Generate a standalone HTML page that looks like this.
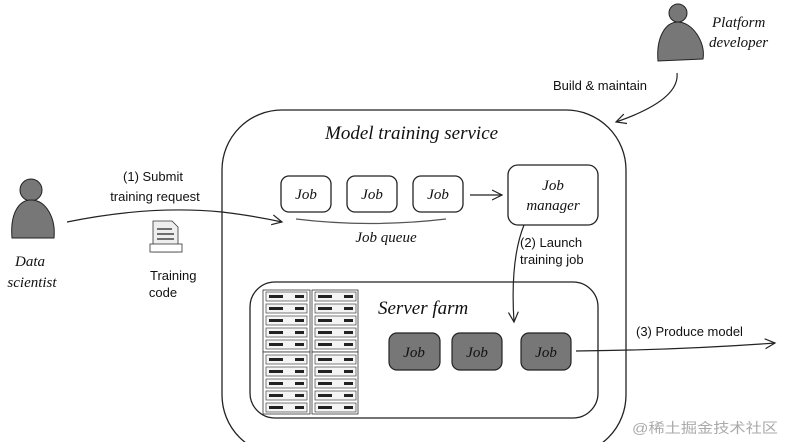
<!DOCTYPE html>
<html><head><meta charset="utf-8"><style>
html,body{margin:0;padding:0;background:#fff;}
svg{display:block}
.h{font-family:"Liberation Serif",serif;font-style:italic;fill:#111}
.s{font-family:"Liberation Sans",sans-serif;fill:#111;font-size:13px}
</style></head><body>
<svg width="785" height="442" viewBox="0 0 785 442" xmlns="http://www.w3.org/2000/svg">
<defs>
<marker id="a" markerWidth="12" markerHeight="12" refX="10" refY="6" orient="auto" markerUnits="userSpaceOnUse">
<path d="M0,1 L10,6 L0,11" fill="none" stroke="#222" stroke-width="1.2"/></marker>
</defs>
<rect x="222" y="110" width="404" height="345" rx="60" fill="none" stroke="#222" stroke-width="1.3"/>
<text x="325" y="139" class="h" font-size="19">Model training service</text>
<g fill="#fff" stroke="#222" stroke-width="1.3">
<rect x="281" y="176" width="50" height="36" rx="8"/>
<rect x="347" y="176" width="50" height="36" rx="8"/>
<rect x="413" y="176" width="50" height="36" rx="8"/>
<rect x="508" y="165" width="90" height="60" rx="10"/>
</g>
<g class="h" font-size="15" text-anchor="middle">
<text x="306" y="199">Job</text><text x="372" y="199">Job</text><text x="438" y="199">Job</text>
<text x="553" y="190">Job</text><text x="553" y="210">manager</text>
<text x="386" y="242">Job queue</text>
</g>
<path d="M296,219 Q370,228 446,219" fill="none" stroke="#555" stroke-width="1.3"/>
<path d="M470,195 L502,195" stroke="#222" stroke-width="1.2" marker-end="url(#a)"/>
<rect x="250" y="282" width="348" height="136" rx="25" fill="#fff" stroke="#222" stroke-width="1.3"/>
<text x="378" y="314" class="h" font-size="19">Server farm</text>
<g fill="#777" stroke="#222" stroke-width="1.2">
<rect x="389" y="333" width="51" height="37" rx="8"/>
<rect x="452" y="333" width="50" height="37" rx="8"/>
<rect x="521" y="333" width="50" height="37" rx="8"/>
</g>
<g class="h" font-size="15" text-anchor="middle">
<text x="414" y="357">Job</text><text x="477" y="357">Job</text><text x="546" y="357">Job</text>
</g>
<g stroke="#333" stroke-width="0.8" fill="#fff">
<rect x="263" y="290" width="47" height="62"/><rect x="312" y="290" width="46" height="62"/>
<rect x="263" y="352" width="47" height="62"/><rect x="312" y="352" width="46" height="62"/>
</g>
<g stroke="#444" stroke-width="0.7" fill="#f4f4f4">
<rect x="266" y="292" width="41" height="9"/><rect x="266" y="304" width="41" height="9"/><rect x="266" y="316" width="41" height="9"/><rect x="266" y="328" width="41" height="9"/><rect x="266" y="340" width="41" height="9"/>
<rect x="266" y="355" width="41" height="9"/><rect x="266" y="367" width="41" height="9"/><rect x="266" y="379" width="41" height="9"/><rect x="266" y="391" width="41" height="9"/><rect x="266" y="403" width="41" height="9"/>
<rect x="315" y="292" width="41" height="9"/><rect x="315" y="304" width="41" height="9"/><rect x="315" y="316" width="41" height="9"/><rect x="315" y="328" width="41" height="9"/><rect x="315" y="340" width="41" height="9"/>
<rect x="315" y="355" width="41" height="9"/><rect x="315" y="367" width="41" height="9"/><rect x="315" y="379" width="41" height="9"/><rect x="315" y="391" width="41" height="9"/><rect x="315" y="403" width="41" height="9"/>
</g>
<g fill="#222">
<rect x="269" y="295" width="14" height="3"/><rect x="269" y="307" width="14" height="3"/><rect x="269" y="319" width="14" height="3"/><rect x="269" y="331" width="14" height="3"/><rect x="269" y="343" width="14" height="3"/>
<rect x="269" y="358" width="14" height="3"/><rect x="269" y="370" width="14" height="3"/><rect x="269" y="382" width="14" height="3"/><rect x="269" y="394" width="14" height="3"/><rect x="269" y="406" width="14" height="3"/>
<rect x="318" y="295" width="14" height="3"/><rect x="318" y="307" width="14" height="3"/><rect x="318" y="319" width="14" height="3"/><rect x="318" y="331" width="14" height="3"/><rect x="318" y="343" width="14" height="3"/>
<rect x="318" y="358" width="14" height="3"/><rect x="318" y="370" width="14" height="3"/><rect x="318" y="382" width="14" height="3"/><rect x="318" y="394" width="14" height="3"/><rect x="318" y="406" width="14" height="3"/>
<rect x="295" y="295" width="9" height="3"/><rect x="295" y="307" width="9" height="3"/><rect x="295" y="319" width="9" height="3"/><rect x="295" y="331" width="9" height="3"/><rect x="295" y="343" width="9" height="3"/>
<rect x="295" y="358" width="9" height="3"/><rect x="295" y="370" width="9" height="3"/><rect x="295" y="382" width="9" height="3"/><rect x="295" y="394" width="9" height="3"/><rect x="295" y="406" width="9" height="3"/>
<rect x="344" y="295" width="9" height="3"/><rect x="344" y="307" width="9" height="3"/><rect x="344" y="319" width="9" height="3"/><rect x="344" y="331" width="9" height="3"/><rect x="344" y="343" width="9" height="3"/>
<rect x="344" y="358" width="9" height="3"/><rect x="344" y="370" width="9" height="3"/><rect x="344" y="382" width="9" height="3"/><rect x="344" y="394" width="9" height="3"/><rect x="344" y="406" width="9" height="3"/>
</g>
<path d="M524,225 Q510,260 514,322" fill="none" stroke="#222" stroke-width="1.2" marker-end="url(#a)"/>
<text x="520" y="247" class="s">(2) Launch</text>
<text x="520" y="264" class="s">training job</text>
<path d="M576,351 Q680,350 775,343" fill="none" stroke="#222" stroke-width="1.2" marker-end="url(#a)"/>
<text x="636" y="336" class="s">(3) Produce model</text>
<circle cx="31" cy="190" r="11" fill="#777" stroke="#222" stroke-width="1"/>
<path d="M12,238 C10,215 18,200 31,200 C46,200 56,218 54,238 Z" fill="#777" stroke="#222" stroke-width="1"/>
<text x="30" y="266" class="h" font-size="15" text-anchor="middle">Data</text>
<text x="32" y="287" class="h" font-size="15" text-anchor="middle">scientist</text>
<path d="M67,222 Q150,205 222,212 Q255,216 282,222" fill="none" stroke="#222" stroke-width="1.2" marker-end="url(#a)"/>
<text x="153" y="181" class="s" text-anchor="middle">(1) Submit</text>
<text x="155" y="201" class="s" text-anchor="middle">training request</text>
<path d="M153,221 L172,221 L178,227 L178,252 L153,252 Z" fill="#eee" stroke="#333" stroke-width="0.8"/>
<g stroke="#444" stroke-width="1.5"><line x1="157" y1="229" x2="172" y2="229"/><line x1="157" y1="234" x2="174" y2="234"/><line x1="157" y1="239" x2="174" y2="239"/></g>
<rect x="150" y="244" width="32" height="8" fill="#fff" stroke="#333" stroke-width="0.8"/>
<text x="150" y="280" class="s" font-size="13">Training</text>
<text x="163" y="297" class="s" font-size="13" text-anchor="middle">code</text>
<circle cx="678" cy="13" r="9" fill="#777" stroke="#222" stroke-width="1"/>
<path d="M658,61 C656,38 665,22 678,22 C692,22 706,42 703,59 Z" fill="#777" stroke="#222" stroke-width="1"/>
<text x="712" y="27" class="h" font-size="15">Platform</text>
<text x="709" y="47" class="h" font-size="15">developer</text>
<text x="553" y="90" class="s">Build &amp; maintain</text>
<path d="M677,73 Q680,100 616,122" fill="none" stroke="#222" stroke-width="1.2" marker-end="url(#a)"/>
<text x="632" y="433" font-family="'Liberation Sans','Noto Sans CJK SC',sans-serif" font-size="14" fill="#aaa" textLength="146" lengthAdjust="spacingAndGlyphs">@稀土掘金技术社区</text>
</svg>
</body></html>
